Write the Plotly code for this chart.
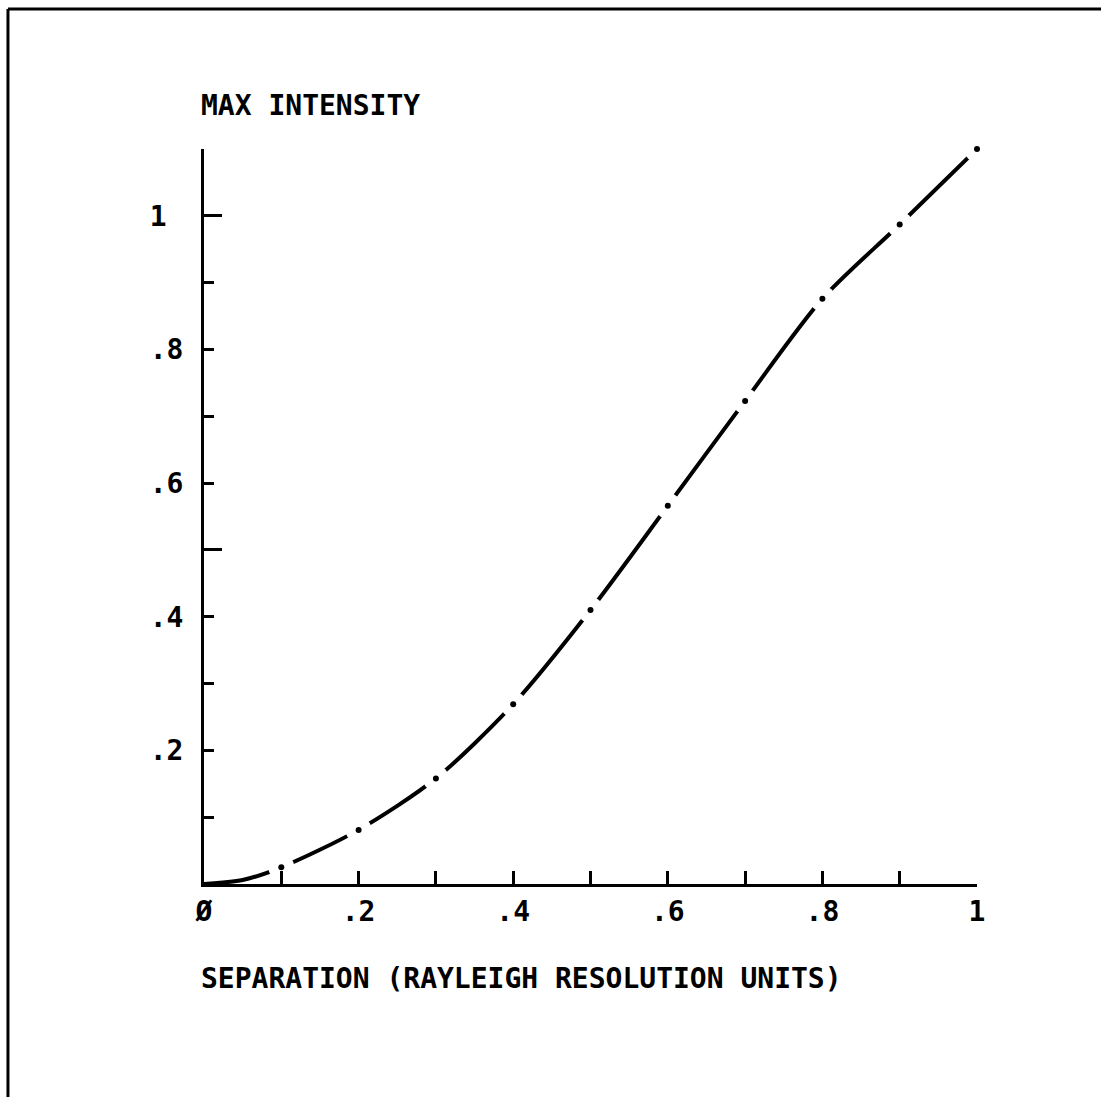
import plotly.graph_objects as go

# Data
SEPARATION = [0.0, 0.05, 0.1, 0.2, 0.3, 0.4, 0.5, 0.6, 0.7, 0.8, 0.9, 1.0]
MAX_INTENSITY = [0.0, 0.006, 0.025, 0.081, 0.158, 0.269, 0.410, 0.566, 0.723, 0.876, 0.987, 1.100]
# plotted points that the plotter marked with a dot (every 0.1)
DOT_X = [0.1, 0.2, 0.3, 0.4, 0.5, 0.6, 0.7, 0.8, 0.9, 1.0]
DOT_Y = [0.025, 0.081, 0.158, 0.269, 0.410, 0.566, 0.723, 0.876, 0.987, 1.100]

X_TICKS = [0.0, 0.2, 0.4, 0.6, 0.8, 1.0]
X_TICK_TEXT = ["Ø", ".2", ".4", ".6", ".8", "1"]
X_MINOR = [0.1, 0.3, 0.5, 0.7, 0.9]
Y_TICKS = [0.2, 0.4, 0.6, 0.8, 1.0]
Y_TICK_TEXT = [".2", ".4", ".6", ".8", "1\u00a0"]
Y_MINOR = [0.1, 0.3, 0.5, 0.7, 0.9, 1.1]
Y_LONG = [0.5, 1.0]

X_TITLE = "SEPARATION (RAYLEIGH RESOLUTION UNITS)"
Y_TITLE = "MAX INTENSITY"

FONT = dict(family="DejaVu Sans Mono", size=28, color="black", weight="bold")

fig = go.Figure()
fig.add_trace(go.Scatter(
    x=SEPARATION, y=MAX_INTENSITY, mode="lines",
    line=dict(color="black", width=4, shape="spline", smoothing=0.8),
    cliponaxis=False, showlegend=False, hoverinfo="skip"))
# gaps around each plotted point (dash-dot look of the pen plotter)
fig.add_trace(go.Scatter(
    x=DOT_X, y=DOT_Y, mode="markers",
    marker=dict(color="white", size=26, line=dict(width=0)),
    cliponaxis=False, showlegend=False, hoverinfo="skip"))
fig.add_trace(go.Scatter(
    x=DOT_X, y=DOT_Y, mode="markers",
    marker=dict(color="black", size=6, line=dict(width=0)),
    cliponaxis=False, showlegend=False, hoverinfo="skip"))
fig.add_trace(go.Scatter(x=[None], y=[None], yaxis="y2", showlegend=False, hoverinfo="skip"))

fig.update_layout(
    width=1101, height=1097,
    margin=dict(l=204, r=124, t=149, b=213),
    paper_bgcolor="white", plot_bgcolor="white",
    font=FONT,
    xaxis=dict(
        range=[0, 1], showgrid=False, zeroline=False,
        showline=True, linecolor="black", linewidth=3,
        ticks="inside", ticklen=13, tickwidth=3, tickcolor="black",
        tickvals=X_TICKS, ticktext=X_TICK_TEXT, tickfont=FONT,
        ticklabelstandoff=0,
        minor=dict(tickvals=X_MINOR, ticks="inside", ticklen=13, tickwidth=3, tickcolor="black"),
    ),
    yaxis=dict(
        range=[0, 1.1], showgrid=False, zeroline=False,
        showline=True, linecolor="black", linewidth=3,
        ticks="inside", ticklen=10, tickwidth=3, tickcolor="black",
        tickvals=Y_TICKS, ticktext=Y_TICK_TEXT, tickfont=FONT,
        ticklabelstandoff=12,
        minor=dict(tickvals=Y_MINOR, ticks="inside", ticklen=10, tickwidth=3, tickcolor="black"),
    ),
    yaxis2=dict(
        range=[0, 1.1], overlaying="y", anchor="x", side="left",
        showgrid=False, zeroline=False, showline=False,
        ticks="inside", ticklen=18, tickwidth=3, tickcolor="black",
        tickvals=Y_LONG, showticklabels=False,
    ),
    annotations=[
        dict(text=Y_TITLE, xref="paper", yref="paper", x=0, y=1, xanchor="left",
             yanchor="middle", xshift=-5, yshift=44, showarrow=False, font=FONT),
        dict(text=X_TITLE, xref="paper", yref="paper", x=0, y=0, xanchor="left",
             yanchor="middle", xshift=-5, yshift=-94, showarrow=False, font=FONT),
    ],
    shapes=[
        dict(type="line", xref="paper", yref="paper", x0=-0.2536, x1=1.2, y0=1.1905, y1=1.1905,
             line=dict(color="black", width=3)),
        dict(type="line", xref="paper", yref="paper", x0=-0.2536, x1=-0.2536, y0=1.1905, y1=-0.3,
             line=dict(color="black", width=3)),
    ],
)

fig.write_html("out.html")
